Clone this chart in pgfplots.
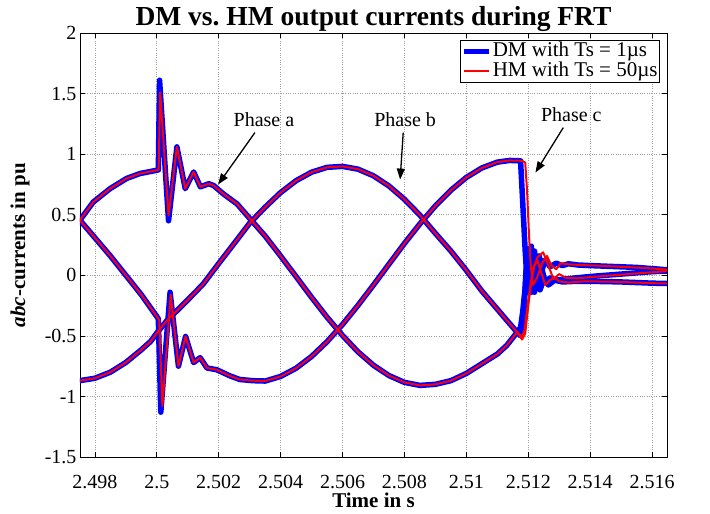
\documentclass[border=0pt]{standalone}
\usepackage{fontspec}
\setmainfont{Liberation Serif}
\usepackage{pgfplots}
\pgfplotsset{compat=1.18}
\usetikzlibrary{arrows.meta}
\definecolor{dmblue}{RGB}{0,0,255}
\definecolor{hmred}{RGB}{255,0,0}
\begin{document}
\begin{tikzpicture}
\begin{axis}[
  scale only axis,
  width=587bp, height=424bp,
  xmin=-2.48, xmax=16.48, ymin=-1.5, ymax=2,
  xtick={-2,0,2,4,6,8,10,12,14,16},
  xticklabels={2.498,2.5,2.502,2.504,2.506,2.508,2.51,2.512,2.514,2.516},
  ytick={-1.5,-1,-0.5,0,0.5,1,1.5,2},
  yticklabels={-1.5,-1,-0.5,0,0.5,1,1.5,2},
  tick align=inside,
  major tick length=5bp,
  tick style={black, line width=0.6bp},
  grid=major,
  grid style={dotted, gray!75, line width=0.6bp},
  axis line style={black, line width=0.9bp},
  ticklabel style={font=\fontsize{20bp}{24bp}\selectfont},
  xticklabel style={yshift=-15bp},
  title={DM vs.\ HM output currents during FRT},
  title style={font=\bfseries\fontsize{27.5bp}{32bp}\selectfont, at={(axis description cs:0.5,1)}, anchor=base, yshift=2bp},
  xlabel={Time in s},
  ylabel={\textit{abc}-currents in pu},
  xlabel style={font=\bfseries\fontsize{21bp}{24bp}\selectfont, at={(axis description cs:0.5,0)}, anchor=center, yshift=-43bp},
  ylabel style={font=\bfseries\fontsize{21bp}{24bp}\selectfont, at={(axis description cs:-0.1022,0.5)}, anchor=center},
  legend style={at={(axis description cs:1,1)}, anchor=north east, xshift=-7bp, yshift=-7bp, draw=black, line width=0.8bp,
    font=\fontsize{21bp}{21bp}\selectfont, inner sep=1bp, row sep=0bp, fill=white,
    nodes={text height=14bp, text depth=4bp, inner sep=1bp}},
  legend cell align=left,
  legend image code/.code={\draw[#1] (0bp,0bp) -- (25bp,0bp);},
]
% ---------- DM (blue) ----------
\addplot[dmblue, line width=5.5bp, line join=round] coordinates {
(-2.49,0.453) (-2.05,0.605) (-1.51,0.715) (-0.97,0.80) (-0.54,0.84) (-0.02,0.866) (0.05,0.87)
(0.09,1.61) (0.38,0.45) (0.65,1.06) (0.92,0.715) (1.19,0.853) (1.41,0.73) (1.68,0.756) (1.84,0.74)
(2.16,0.67) (2.59,0.59) (3.0,0.47) (3.5,0.324) (4.0,0.159) (4.5,-0.011) (5.0,-0.182) (5.5,-0.346)
(6.0,-0.497) (6.5,-0.632) (7.0,-0.743) (7.5,-0.828) (8.0,-0.884) (8.5,-0.909) (9.0,-0.90) (9.5,-0.87)
(10.0,-0.81) (10.5,-0.73) (11.0,-0.65) (11.3,-0.58) (11.64,-0.47) (11.75,-0.43)
(11.82,-0.3) (11.9,-0.1) (11.95,0.1) (12.0,-0.12) (12.05,0.15) (12.1,-0.14) (12.15,0.12) (12.2,-0.12)
(12.28,0.08) (12.36,-0.1) (12.45,0.04) (12.55,-0.06) (12.7,-0.02) (12.9,-0.04) (13.2,-0.03) (13.6,-0.02)
(14.0,-0.01) (14.5,0.0) (15.0,0.01) (15.5,0.02) (16.0,0.03) (16.5,0.035)
};
\addlegendentry{DM with Ts = 1µs}
\addplot[dmblue, line width=5.5bp, line join=round, forget plot] coordinates {
(-2.49,-0.87) (-2.0,-0.85) (-1.5,-0.80) (-1.0,-0.72) (-0.5,-0.615) (-0.2,-0.546) (0.05,-0.46)
(0.34,-0.37) (0.66,-0.29) (1.09,-0.18) (1.5,-0.072) (2.0,0.097) (2.5,0.263) (3.0,0.43) (3.5,0.562)
(4.0,0.683) (4.5,0.781) (5.0,0.851) (5.5,0.891) (6.0,0.899) (6.5,0.876) (7.0,0.821) (7.5,0.737)
(8.0,0.627) (8.5,0.496) (9.0,0.346) (9.5,0.20) (10.0,0.04) (10.5,-0.13) (11.0,-0.28) (11.3,-0.37)
(11.64,-0.47) (11.75,-0.50)
(11.82,-0.45) (11.88,-0.2) (11.93,0.05) (11.98,-0.14) (12.03,0.12) (12.08,-0.13) (12.13,0.08) (12.2,-0.14)
(12.28,0.02) (12.38,-0.12) (12.5,-0.03) (12.65,-0.08) (12.85,-0.04) (13.1,-0.055) (13.5,-0.05) (14.0,-0.05)
(14.5,-0.052) (15.0,-0.055) (15.5,-0.06) (16.0,-0.065) (16.5,-0.068)
};
\addplot[dmblue, line width=5.5bp, line join=round, forget plot] coordinates {
(-2.49,0.457) (-2.0,0.31) (-1.5,0.16) (-1.0,0.0) (-0.5,-0.16) (0.0,-0.34) (0.05,-0.36)
(0.13,-1.13) (0.43,-0.14) (0.70,-0.75) (0.93,-0.505) (1.19,-0.72) (1.40,-0.68) (1.62,-0.765) (1.94,-0.78)
(2.36,-0.83) (2.68,-0.86) (3.1,-0.87) (3.5,-0.873) (4.0,-0.835) (4.5,-0.767) (5.0,-0.670) (5.5,-0.548)
(6.0,-0.406) (6.5,-0.248) (7.0,-0.080) (7.5,0.092) (8.0,0.263) (8.5,0.425) (9.0,0.573) (9.5,0.702)
(10.0,0.808) (10.5,0.886) (11.0,0.934) (11.4,0.948) (11.75,0.945)
(11.82,0.6) (11.9,0.2) (11.95,0.0) (12.0,0.22) (12.05,-0.05) (12.1,0.24) (12.15,0.0) (12.2,0.2)
(12.27,0.02) (12.35,0.16) (12.45,0.05) (12.55,0.13) (12.7,0.07) (12.9,0.10) (13.1,0.08) (13.3,0.095)
(13.6,0.085) (14.0,0.08) (14.5,0.075) (15.0,0.07) (15.5,0.065) (16.0,0.055) (16.5,0.045)
};
% ---------- HM (red) ----------
\addplot[hmred, line width=2bp, line join=round] coordinates {
(-2.49,0.453) (-2.05,0.605) (-1.51,0.715) (-0.97,0.80) (-0.54,0.84) (-0.02,0.866) (0.06,0.87)
(0.11,1.51) (0.38,0.495) (0.65,1.06) (0.92,0.715) (1.19,0.853) (1.41,0.73) (1.68,0.756) (1.84,0.74)
(2.16,0.67) (2.59,0.59) (3.0,0.47) (3.5,0.324) (4.0,0.159) (4.5,-0.011) (5.0,-0.182) (5.5,-0.346)
(6.0,-0.497) (6.5,-0.632) (7.0,-0.743) (7.5,-0.828) (8.0,-0.884) (8.5,-0.909) (9.0,-0.90) (9.5,-0.87)
(10.0,-0.81) (10.5,-0.73) (11.0,-0.65) (11.3,-0.58) (11.64,-0.47) (11.80,-0.51)
(11.88,-0.45) (12.0,-0.2) (12.15,0.05) (12.3,0.15) (12.48,0.19) (12.65,0.08) (12.81,-0.03) (13.0,0.01)
(13.2,-0.02) (13.6,-0.025) (14.0,-0.015) (14.5,-0.005) (15.0,0.005) (15.5,0.015) (16.0,0.025) (16.5,0.035)
};
\addlegendentry{HM with Ts = 50µs}
\addplot[hmred, line width=2bp, line join=round, forget plot] coordinates {
(-2.49,-0.87) (-2.0,-0.85) (-1.5,-0.80) (-1.0,-0.72) (-0.5,-0.615) (-0.2,-0.546) (0.05,-0.46)
(0.34,-0.37) (0.66,-0.29) (1.09,-0.18) (1.5,-0.072) (2.0,0.097) (2.5,0.263) (3.0,0.43) (3.5,0.562)
(4.0,0.683) (4.5,0.781) (5.0,0.851) (5.5,0.891) (6.0,0.899) (6.5,0.876) (7.0,0.821) (7.5,0.737)
(8.0,0.627) (8.5,0.496) (9.0,0.346) (9.5,0.20) (10.0,0.04) (10.5,-0.13) (11.0,-0.28) (11.3,-0.37)
(11.64,-0.47) (11.80,-0.53)
(11.9,-0.48) (12.0,-0.25) (12.1,-0.05) (12.2,0.08) (12.3,0.12) (12.42,0.02) (12.55,-0.08) (12.7,-0.04)
(12.85,-0.02) (13.0,-0.05) (13.3,-0.06) (13.8,-0.05) (14.5,-0.052) (15.0,-0.055) (15.5,-0.06) (16.0,-0.065) (16.5,-0.068)
};
\addplot[hmred, line width=2bp, line join=round, forget plot] coordinates {
(-2.49,0.457) (-2.0,0.31) (-1.5,0.16) (-1.0,0.0) (-0.5,-0.16) (0.0,-0.34) (0.08,-0.37)
(0.18,-1.08) (0.45,-0.16) (0.70,-0.75) (0.93,-0.505) (1.19,-0.72) (1.40,-0.68) (1.62,-0.765) (1.94,-0.78)
(2.36,-0.83) (2.68,-0.86) (3.1,-0.87) (3.5,-0.873) (4.0,-0.835) (4.5,-0.767) (5.0,-0.670) (5.5,-0.548)
(6.0,-0.406) (6.5,-0.248) (7.0,-0.080) (7.5,0.092) (8.0,0.263) (8.5,0.425) (9.0,0.573) (9.5,0.702)
(10.0,0.808) (10.5,0.886) (11.0,0.934) (11.4,0.948) (11.80,0.945)
(11.90,0.93) (11.96,0.70) (12.02,0.35) (12.08,0.08) (12.15,-0.08) (12.28,-0.02) (12.45,0.10) (12.6,0.16)
(12.75,0.08) (12.9,0.05) (13.05,0.10) (13.3,0.09) (13.7,0.085) (14.2,0.08) (15.0,0.07) (15.8,0.06) (16.5,0.047)
};
% ---------- annotations ----------
\node[font=\fontsize{20bp}{24bp}\selectfont] at (axis cs:3.46,1.285) {Phase a};
\node[font=\fontsize{20bp}{24bp}\selectfont] at (axis cs:8.02,1.285) {Phase b};
\node[font=\fontsize{20bp}{24bp}\selectfont] at (axis cs:13.39,1.327) {Phase c};
\draw[line width=1.3bp, -{Triangle[length=11bp,width=8bp]}] (axis cs:3.17,1.178) -- (axis cs:1.98,0.749);
\draw[line width=1.3bp, -{Triangle[length=11bp,width=8bp]}] (axis cs:7.96,1.178) -- (axis cs:7.86,0.79);
\draw[line width=1.3bp, -{Triangle[length=11bp,width=8bp]}] (axis cs:13.13,1.219) -- (axis cs:12.23,0.848);
\coordinate (BL) at (rel axis cs:0,0);
\coordinate (TR) at (rel axis cs:1,1);
\end{axis}
\pgfresetboundingbox
\path[use as bounding box] ([shift={(-80bp,-57bp)}]BL) rectangle ([shift={(43bp,33bp)}]TR);
\end{tikzpicture}
\end{document}
